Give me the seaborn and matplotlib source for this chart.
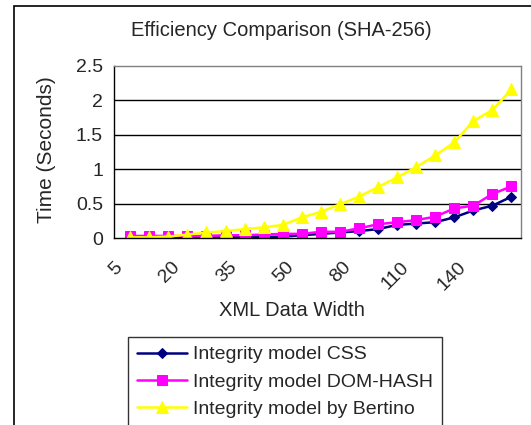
import numpy as np
import pandas as pd
import matplotlib
matplotlib.use("Agg")
import matplotlib.pyplot as plt
import seaborn as sns
from matplotlib.patches import Rectangle

# data
widths = [5, 10, 15, 20, 25, 30, 35, 40, 45, 50, 60, 70, 80, 90, 100, 110, 120, 130, 140, 150, 160]
css = [0.005, 0.005, 0.005, 0.005, 0.005, 0.01, 0.01, 0.015, 0.02, 0.04, 0.06, 0.08,
       0.10, 0.13, 0.19, 0.21, 0.23, 0.30, 0.40, 0.47, 0.60]
dom_hash = [0.03, 0.03, 0.03, 0.03, 0.03, 0.04, 0.04, 0.05, 0.06, 0.06, 0.09, 0.09,
            0.14, 0.20, 0.23, 0.26, 0.31, 0.43, 0.47, 0.64, 0.75]
bertino = [0.01, 0.01, 0.02, 0.05, 0.08, 0.10, 0.13, 0.155, 0.19, 0.30, 0.38, 0.49,
           0.60, 0.74, 0.88, 1.03, 1.20, 1.39, 1.70, 1.86, 2.16]
series_names = ["Integrity model CSS", "Integrity model DOM-HASH", "Integrity model by Bertino"]
shown_labels = [5, 20, 35, 50, 80, 110, 140]

sns.set_style("white")
plt.rcParams['font.family'] = ['Liberation Sans', 'DejaVu Sans']

# long-form table for seaborn
pos = np.arange(len(widths))
df = pd.DataFrame({
    "pos": np.tile(pos, 3),
    "time": css + dom_hash + bertino,
    "model": np.repeat(series_names, len(widths)),
})

fig = plt.figure(figsize=(5.31, 4.25), dpi=100)
ax = fig.add_axes([114 / 531, 1 - 238 / 425, (521 - 114) / 531, (238 - 66) / 425])

palette = {series_names[0]: "#000080", series_names[1]: "#FF00FF", series_names[2]: "#FFFF00"}
markers = {series_names[0]: "D", series_names[1]: "s", series_names[2]: "^"}
sizes = {series_names[0]: 5, series_names[1]: 6.5, series_names[2]: 8.5}

for name in series_names:
    sub = df[df["model"] == name]
    sns.lineplot(data=sub, x="pos", y="time", ax=ax, color=palette[name],
                 marker=markers[name], markersize=sizes[name], markeredgecolor=palette[name],
                 linewidth=1.8, label=name)

ax.set_xlim(-0.5, len(widths) - 0.5)
ax.set_ylim(0, 2.5)
ax.set_yticks([0, 0.5, 1, 1.5, 2, 2.5])
ax.set_yticklabels(["0", "0.5", "1", "1.5", "2", "2.5"], fontsize=14)
for v in [0.5, 1, 1.5, 2]:
    ax.axhline(v, color="black", lw=1, zorder=0)

# category labels every third point (drawn a little left, as in the original),
# boundary ticks as minor ticks
lab_pos = [widths.index(w) - 0.85 for w in shown_labels]
ax.set_xticks(lab_pos)
ax.set_xticklabels([str(w) for w in shown_labels], rotation=45, ha="right", va="top",
                   rotation_mode="anchor", fontsize=14)
ax.set_xticks(np.arange(-0.5, len(widths)), minor=True)
ax.tick_params(axis="x", which="major", length=0, pad=15)
ax.tick_params(axis="x", which="minor", length=5, width=1, color="black", direction="out")
ax.tick_params(axis="y", which="major", length=5, width=1, color="black", direction="out", pad=3)

ax.spines["left"].set_color("black")
ax.spines["bottom"].set_color("black")
ax.spines["top"].set_color("#808080")
ax.spines["right"].set_color("#808080")
for s in ax.spines.values():
    s.set_linewidth(1)

ax.set_xlabel("")
ax.set_ylabel("")
fig.text(292 / 531, 1 - 310 / 425, "XML Data Width", ha="center", va="center", fontsize=14.5)
fig.text(47 / 531, 1 - 150 / 425, "Time (Seconds)", ha="center", va="center",
         rotation=90, fontsize=15)
fig.text(281 / 531, 1 - 30 / 425, "Efficiency Comparison (SHA-256)", ha="center", va="center",
         fontsize=14.5)

leg = ax.legend(loc="upper left", bbox_to_anchor=(128 / 531, 1 - 337 / 425),
                bbox_transform=fig.transFigure, frameon=True, fancybox=False,
                edgecolor="black", fontsize=14, handlelength=2.6, borderpad=0.45,
                labelspacing=0.5, handletextpad=0.3, borderaxespad=0)
leg.get_frame().set_linewidth(1)

# outer chart frame
fig.patches.append(Rectangle((14 / 531, -0.1), 1.0, 1 - 6 / 425 + 0.1, transform=fig.transFigure,
                             fill=False, edgecolor="black", linewidth=1.2))

fig.savefig("out.png", dpi=100)
